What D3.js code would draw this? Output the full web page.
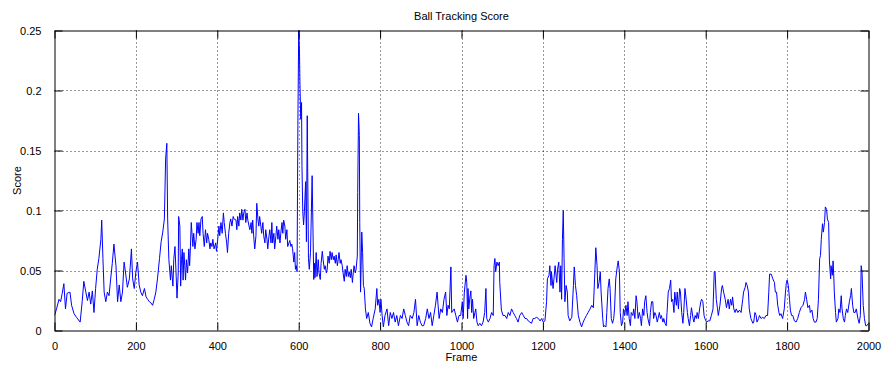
<!DOCTYPE html>
<html><head><meta charset="utf-8">
<script src="https://cdn.jsdelivr.net/npm/d3@7/dist/d3.min.js"></script>
<style>body{margin:0;background:#fff;} text{font-family:"Liberation Sans",Arial,sans-serif;}</style>
</head><body>
<svg id="chart" width="886" height="365"></svg>
<script>
const title = "Ball Tracking Score";
const xLabel = "Frame";
const yLabel = "Score";
const xTicks = [0,200,400,600,800,1000,1200,1400,1600,1800,2000];
const yTicks = [0,0.05,0.1,0.15,0.2,0.25];
const yTickLabels = ["0","0.05","0.1","0.15","0.2","0.25"];

const frames = [
0,5,11,15,19,23,27,31,38,42,48,54,63,68,72,77,81,85,89,93,97,101,105,109,114,116,119,122,126,130,134,138,142,146,151,155,159,163,167,171,175,179,184,189,192,196,200,204,208,212,216,221,225,229,233,237,241,245,249,253,258,262,266,270,273,276,
278,281,285,287,291,293,296,299,301,304,305,308,310,312,314,316,318,320,322,324,327,330,332,334,336,340,342,345,348,350,353,355,357,360,363,365,368,371,374,376,379,382,384,387,389,392,396,398,401,404,406,409,412,415,417,420,423,425,428,431,433,436,439,441,
446,448,450,453,455,458,460,463,465,468,470,473,475,478,480,483,485,487,490,492,495,497,500,502,504,507,509,512,514,517,519,522,524,527,529,532,534,536,539,541,544,546,549,551,554,556,559,561,563,566,568,571,573,576,578,581,583,585,588,590,592,594,596,
598,600,602,603,605,607,608,610,612,614,617,619,621,624,626,629,633,
637,639,640,643,645,648,650,653,655,658,660,663,665,668,670,672,675,677,680,682,685,687,690,692,695,697,699,702,704,707,709,712,714,717,719,722,724,727,729,732,734,736,739,741,744,
745,747,749,750,752,755,757,759,761,764,767,771,775,779,783,788,792,794,797,800,802,805,808,812,817,821,825,829,833,837,841,845,850,854,858,862,866,870,874,879,883,887,891,895,899,903,907,912,916,920,924,928,932,936,940,945,949,953,957,961,964,967,970,974,976,982,986,990,994,
998,1002,1004,1007,1011,1013,1015,1016,1018,1020,1023,1025,1027,1030,1033,1035,1038,1041,1045,1049,1053,1057,1060,1062,1066,1070,1074,1078,1080,1082,1084,1087,1090,1093,1094,1098,1102,1107,1111,1115,1119,1123,1127,1131,1135,1139,1143,1148,1152,1156,1160,1164,1168,1172,1176,1180,1184,1189,1193,1197,1201,1205,1209,1211,1215,1217,1220,1221,1225,1230,1234,1236,1239,1242,1244,1246,1248,1250,1252,1254,1257,1260,1262,1266,1271,1275,1277,1280,1283,1287,1291,1295,1299,1303,1307,1311,1316,1320,1324,
1327,1330,1333,1335,1338,1341,1343,1347,1349,1351,1355,1357,1360,1363,1365,1368,1371,1374,1376,1379,1383,1385,1388,1390,1393,1396,1398,1401,1404,1407,1409,1412,1415,1417,1421,1423,1426,1429,1431,1434,1437,1440,1442,1445,1448,1450,1453,1456,1458,1462,1464,1467,1470,1472,1475,1478,1481,1483,1486,1489,1491,1495,1497,1500,1503,1505,1508,1511,1514,1516,1519,1522,1524,1528,1530,1533,1536,1538,1541,1544,1546,1549,1552,1555,1557,1560,1563,1565,1569,1571,1574,1577,1579,1582,1585,1588,1590,1593,1596,1598,1602,1606,1610,1614,1618,1621,1623,1626,1629,1631,1635,1639,1641,1644,1648,1651,1655,
1658,1661,1664,1666,1669,1672,1675,1679,1683,1687,1691,1693,1697,1699,1702,1705,1707,1711,1716,1718,1721,1724,1726,1730,1732,1736,1740,1744,1748,1752,1755,1757,1761,1765,1769,1771,1774,1777,1780,1782,1785,1789,1793,1796,1798,1800,1803,1806,1808,1811,1814,1818,1822,1826,1830,1834,1839,1843,1845,1848,1851,1855,1857,1861,1864,1867,1871,1874,1877,1880,1882,1884,1887,1889,1892,1894,1897,1899,1902,1904,1907,1908,1911,1913,1915,1916,1919,1921,1925,1927,1930,1933,1935,1938,1941,1943,1946,1949,1953,1956,1958,1961,1964,1967,1970,1974,1977,1980,1982,1984,1987,1990,1993,1996,2000
];

const scores = [
0.0125,0.018,0.026,0.024,0.031,0.039,0.018,0.031,0.032,0.021,0.014,0.011,0.007,0.024,0.041,0.032,0.025,0.032,0.022,0.033,0.015,0.035,0.051,0.060,0.076,0.092,0.060,0.032,0.024,0.032,0.029,0.043,0.056,0.072,0.054,0.024,0.038,0.024,0.032,0.057,0.047,0.036,0.043,0.068,0.043,0.035,0.049,0.057,0.038,0.032,0.029,0.035,0.028,0.026,0.024,0.023,0.021,0.026,0.032,0.043,0.060,0.074,0.082,0.093,0.143,0.156,
0.093,0.059,0.042,0.054,0.037,0.059,0.070,0.045,0.027,0.048,0.095,0.087,0.037,0.059,0.068,0.042,0.065,0.054,0.042,0.059,0.048,0.068,0.054,0.070,0.090,0.070,0.081,0.068,0.076,0.090,0.081,0.090,0.079,0.093,0.095,0.081,0.070,0.084,0.073,0.081,0.076,0.068,0.073,0.070,0.076,0.068,0.073,0.066,0.076,0.087,0.079,0.090,0.081,0.098,0.090,0.081,0.073,0.065,0.081,0.090,0.093,0.087,0.095,0.093,
0.092,0.084,0.095,0.087,0.098,0.092,0.101,0.092,0.098,0.101,0.090,0.098,0.092,0.087,0.084,0.090,0.081,0.092,0.076,0.068,0.079,0.106,0.092,0.087,0.095,0.087,0.081,0.090,0.079,0.073,0.084,0.076,0.068,0.079,0.084,0.073,0.090,0.073,0.081,0.068,0.079,0.087,0.076,0.084,0.073,0.081,0.090,0.081,0.092,0.087,0.076,0.084,0.070,0.073,0.075,0.070,0.072,0.068,0.057,0.065,0.051,0.054,0.049,
0.171,0.250,0.232,0.207,0.176,0.190,0.1375,0.099,0.088,0.099,0.124,0.074,0.179,0.060,0.051,0.065,0.129,
0.0425,0.056,0.044,0.065,0.045,0.059,0.048,0.0425,0.056,0.066,0.059,0.051,0.054,0.048,0.051,0.062,0.056,0.066,0.059,0.065,0.059,0.062,0.056,0.063,0.054,0.059,0.065,0.056,0.059,0.054,0.048,0.041,0.051,0.045,0.054,0.045,0.049,0.044,0.051,0.040,0.048,0.054,0.048,0.051,0.062,
0.115,0.181,0.1625,0.090,0.032,0.082,0.065,0.0375,0.035,0.018,0.010,0.015,0.006,0.003,0.010,0.018,0.035,0.021,0.026,0.015,0.026,0.0125,0.003,0.0125,0.018,0.004,0.015,0.010,0.015,0.007,0.0125,0.004,0.0125,0.010,0.018,0.0125,0.007,0.004,0.0125,0.010,0.015,0.026,0.004,0.0125,0.007,0.004,0.004,0.010,0.018,0.010,0.015,0.004,0.0125,0.021,0.032,0.010,0.018,0.015,0.026,0.032,0.0125,0.021,0.018,0.053,0.015,0.018,0.0125,0.007,0.0125,
0.0125,0.024,0.010,0.032,0.046,0.040,0.010,0.035,0.018,0.026,0.033,0.015,0.026,0.010,0.015,0.018,0.007,0.004,0.006,0.004,0.007,0.015,0.035,0.010,0.007,0.010,0.015,0.0125,0.054,0.060,0.049,0.057,0.054,0.057,0.040,0.017,0.0125,0.0125,0.010,0.015,0.0125,0.018,0.015,0.0125,0.010,0.007,0.0125,0.015,0.0125,0.010,0.010,0.008,0.007,0.006,0.010,0.010,0.011,0.010,0.008,0.010,0.007,0.008,0.024,0.043,0.046,0.054,0.0375,0.049,0.035,0.054,0.040,0.051,0.057,0.032,0.054,0.026,0.076,0.100,0.060,0.024,0.0375,0.032,0.0125,0.008,0.011,0.0375,0.053,0.0375,0.029,0.0125,0.007,0.003,0.007,0.010,0.0125,0.015,0.018,0.021,0.019,
0.043,0.069,0.054,0.035,0.040,0.049,0.032,0.010,0.003,0.004,0.003,0.015,0.035,0.043,0.035,0.010,0.006,0.010,0.018,0.043,0.054,0.058,0.049,0.015,0.004,0.007,0.018,0.0125,0.021,0.0125,0.024,0.010,0.004,0.015,0.0125,0.018,0.010,0.029,0.024,0.010,0.015,0.010,0.004,0.018,0.0125,0.024,0.029,0.015,0.010,0.004,0.015,0.024,0.024,0.010,0.015,0.0125,0.007,0.010,0.015,0.010,0.0125,0.007,0.010,0.006,0.004,0.015,0.032,0.035,0.042,0.024,0.026,0.015,0.032,0.021,0.032,0.018,0.035,0.032,0.015,0.006,0.015,0.035,0.026,0.015,0.010,0.004,0.0125,0.019,0.010,0.007,0.0125,0.010,0.015,0.010,0.018,0.024,0.026,0.024,0.0125,0.010,0.007,0.008,0.008,0.0125,0.018,0.049,0.049,0.026,0.018,0.0125,0.021,0.035,0.0375,0.032,0.026,0.019,0.026,
0.018,0.026,0.021,0.028,0.018,0.015,0.018,0.015,0.017,0.015,0.026,0.032,0.036,0.040,0.0375,0.032,0.018,0.010,0.006,0.007,0.015,0.0125,0.007,0.010,0.0125,0.010,0.011,0.010,0.0125,0.0125,0.032,0.047,0.047,0.043,0.040,0.032,0.032,0.021,0.015,0.0125,0.014,0.010,0.018,0.032,0.039,0.042,0.0375,0.026,0.017,0.0125,0.0125,0.008,0.007,0.010,0.015,0.019,0.021,0.026,0.032,0.026,0.019,0.021,0.015,0.017,0.010,0.007,0.007,0.010,0.026,0.060,0.0625,0.076,0.089,0.082,0.090,0.103,0.101,0.093,0.090,0.058,0.043,0.054,0.046,0.058,0.043,0.032,0.015,0.007,0.010,0.018,0.015,0.029,0.018,0.010,0.007,0.0125,0.018,0.015,0.024,0.029,0.035,0.021,0.015,0.015,0.018,0.010,0.006,0.0125,0.054,0.049,0.021,0.010,0.004,0.004,0.006
];

const data = frames.map((f,i)=>({f, s: scores[i]})).filter(d=>d.s!==undefined);

const svg = d3.select("#chart");
const L = 54.5, R = 868.5, T = 30.5, B = 330.5;
const x = d3.scaleLinear().domain([0,2000]).range([L,R]);
const y = d3.scaleLinear().domain([0,0.25]).range([B,T]);
const ink = "#000";
const tickLen = 8;

// grid
const grid = svg.append("g");
xTicks.slice(1,-1).forEach(t=>{
  grid.append("line").attr("x1",Math.round(x(t))+0.5).attr("x2",Math.round(x(t))+0.5)
    .attr("y1",T).attr("y2",B).attr("stroke","#000").attr("stroke-width",1)
    .attr("stroke-dasharray","1,3").attr("opacity",0.8);
});
yTicks.slice(1,-1).forEach(t=>{
  grid.append("line").attr("x1",L).attr("x2",R)
    .attr("y1",Math.round(y(t))+0.5).attr("y2",Math.round(y(t))+0.5).attr("stroke","#000").attr("stroke-width",1)
    .attr("stroke-dasharray","1,3").attr("opacity",0.8);
});

// data line
svg.append("defs").append("clipPath").attr("id","clip")
  .append("rect").attr("x",L).attr("y",T-1).attr("width",R-L).attr("height",B-T+1);
svg.append("path").datum(data)
  .attr("clip-path","url(#clip)")
  .attr("fill","none").attr("stroke","#0000ff").attr("stroke-width",1)
  .attr("stroke-linejoin","round")
  .attr("d", d3.line().x(d=>x(d.f)).y(d=>y(d.s)));

// axes with inward ticks (bottom/left with labels, top/right mirrors)
const fmtY = (d,i)=>yTickLabels[i];
const xb = svg.append("g").attr("transform",`translate(0,${B})`)
  .call(d3.axisBottom(x).tickValues(xTicks).tickSizeInner(-tickLen).tickSizeOuter(0).tickPadding(tickLen+4).tickFormat(d3.format("d")));
const xt = svg.append("g").attr("transform",`translate(0,${T})`)
  .call(d3.axisTop(x).tickValues(xTicks).tickSizeInner(-tickLen).tickSizeOuter(0).tickFormat(""));
const yl = svg.append("g").attr("transform",`translate(${L},0)`)
  .call(d3.axisLeft(y).tickValues(yTicks).tickSizeInner(-tickLen).tickSizeOuter(0).tickPadding(tickLen+5).tickFormat(fmtY));
const yr = svg.append("g").attr("transform",`translate(${R},0)`)
  .call(d3.axisRight(y).tickValues(yTicks).tickSizeInner(-tickLen).tickSizeOuter(0).tickFormat(""));
[xb,xt,yl,yr].forEach(g=>{
  g.selectAll(".domain").attr("stroke",ink).attr("stroke-width",1);
  g.selectAll(".tick line").attr("stroke",ink).attr("stroke-width",1);
  g.selectAll(".tick text").attr("fill","#000").style("font-size","11px").style("font-family","'Liberation Sans',Arial,sans-serif");
});

// title & labels
svg.append("text").attr("x",(L+R)/2).attr("y",20).attr("text-anchor","middle")
  .style("font-size","11px").attr("fill","#000").text(title);
svg.append("text").attr("x",(L+R)/2).attr("y",361).attr("text-anchor","middle")
  .style("font-size","11px").attr("fill","#000").text(xLabel);
svg.append("text").attr("transform",`translate(21,${(T+B)/2}) rotate(-90)`).attr("text-anchor","middle")
  .style("font-size","11px").attr("fill","#000").text(yLabel);
</script>
</body></html>
